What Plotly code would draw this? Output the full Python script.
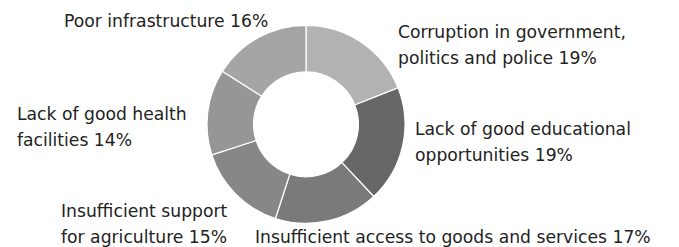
import plotly.graph_objects as go

# The page body has an 8px default margin; lay out in reference pixels and shift.
OFF = 8
W, H = 679 - OFF, 247 - OFF

categories = [
    "Corruption in government,<br>politics and police",
    "Lack of good educational<br>opportunities",
    "Insufficient access to goods and services",
    "Insufficient support<br>for agriculture",
    "Lack of good health<br>facilities",
    "Poor infrastructure",
]
values = [19, 19, 17, 15, 14, 16]
colors = ["#b2b2b2", "#676767", "#7a7a7a", "#878787", "#969696", "#a5a5a5"]

# label anchor positions in reference pixels (left x, centre y of first line)
label_pos = [(396, 32), (413, 129), (253, 237), (59, 211), (15, 114), (62, 21)]
LINE_GAP = 26


def fx(px):
    return (px - OFF) / W


def fy(py):
    return 1 - (py - OFF) / H


fig = go.Figure()
cx, cy, r = 306, 124.3, 99
fig.add_trace(go.Pie(
    labels=[c.replace("<br>", " ") for c in categories],
    values=values,
    marker=dict(colors=colors, line=dict(color="white", width=1.2)),
    hole=0.53,
    sort=False,
    direction="clockwise",
    rotation=0,
    textinfo="none",
    hoverinfo="label+percent",
    showlegend=False,
    domain=dict(x=[fx(cx - r), fx(cx + r)], y=[fy(cy + r), fy(cy - r)]),
))

annotations = []
for cat, val, (px, py) in zip(categories, values, label_pos):
    lines = cat.split("<br>")
    lines[-1] = f"{lines[-1]} {val}%"
    for i, line in enumerate(lines):
        annotations.append(dict(
            x=fx(px), y=fy(py + i * LINE_GAP), xref="paper", yref="paper",
            xanchor="left", yanchor="middle", text=line, showarrow=False,
            font=dict(family="DejaVu Sans", size=17.2, color="#222222"),
        ))

fig.update_layout(
    width=W, height=H,
    margin=dict(l=0, r=0, t=0, b=0),
    paper_bgcolor="white", plot_bgcolor="white",
    annotations=annotations,
)
fig.write_html("out.html")
